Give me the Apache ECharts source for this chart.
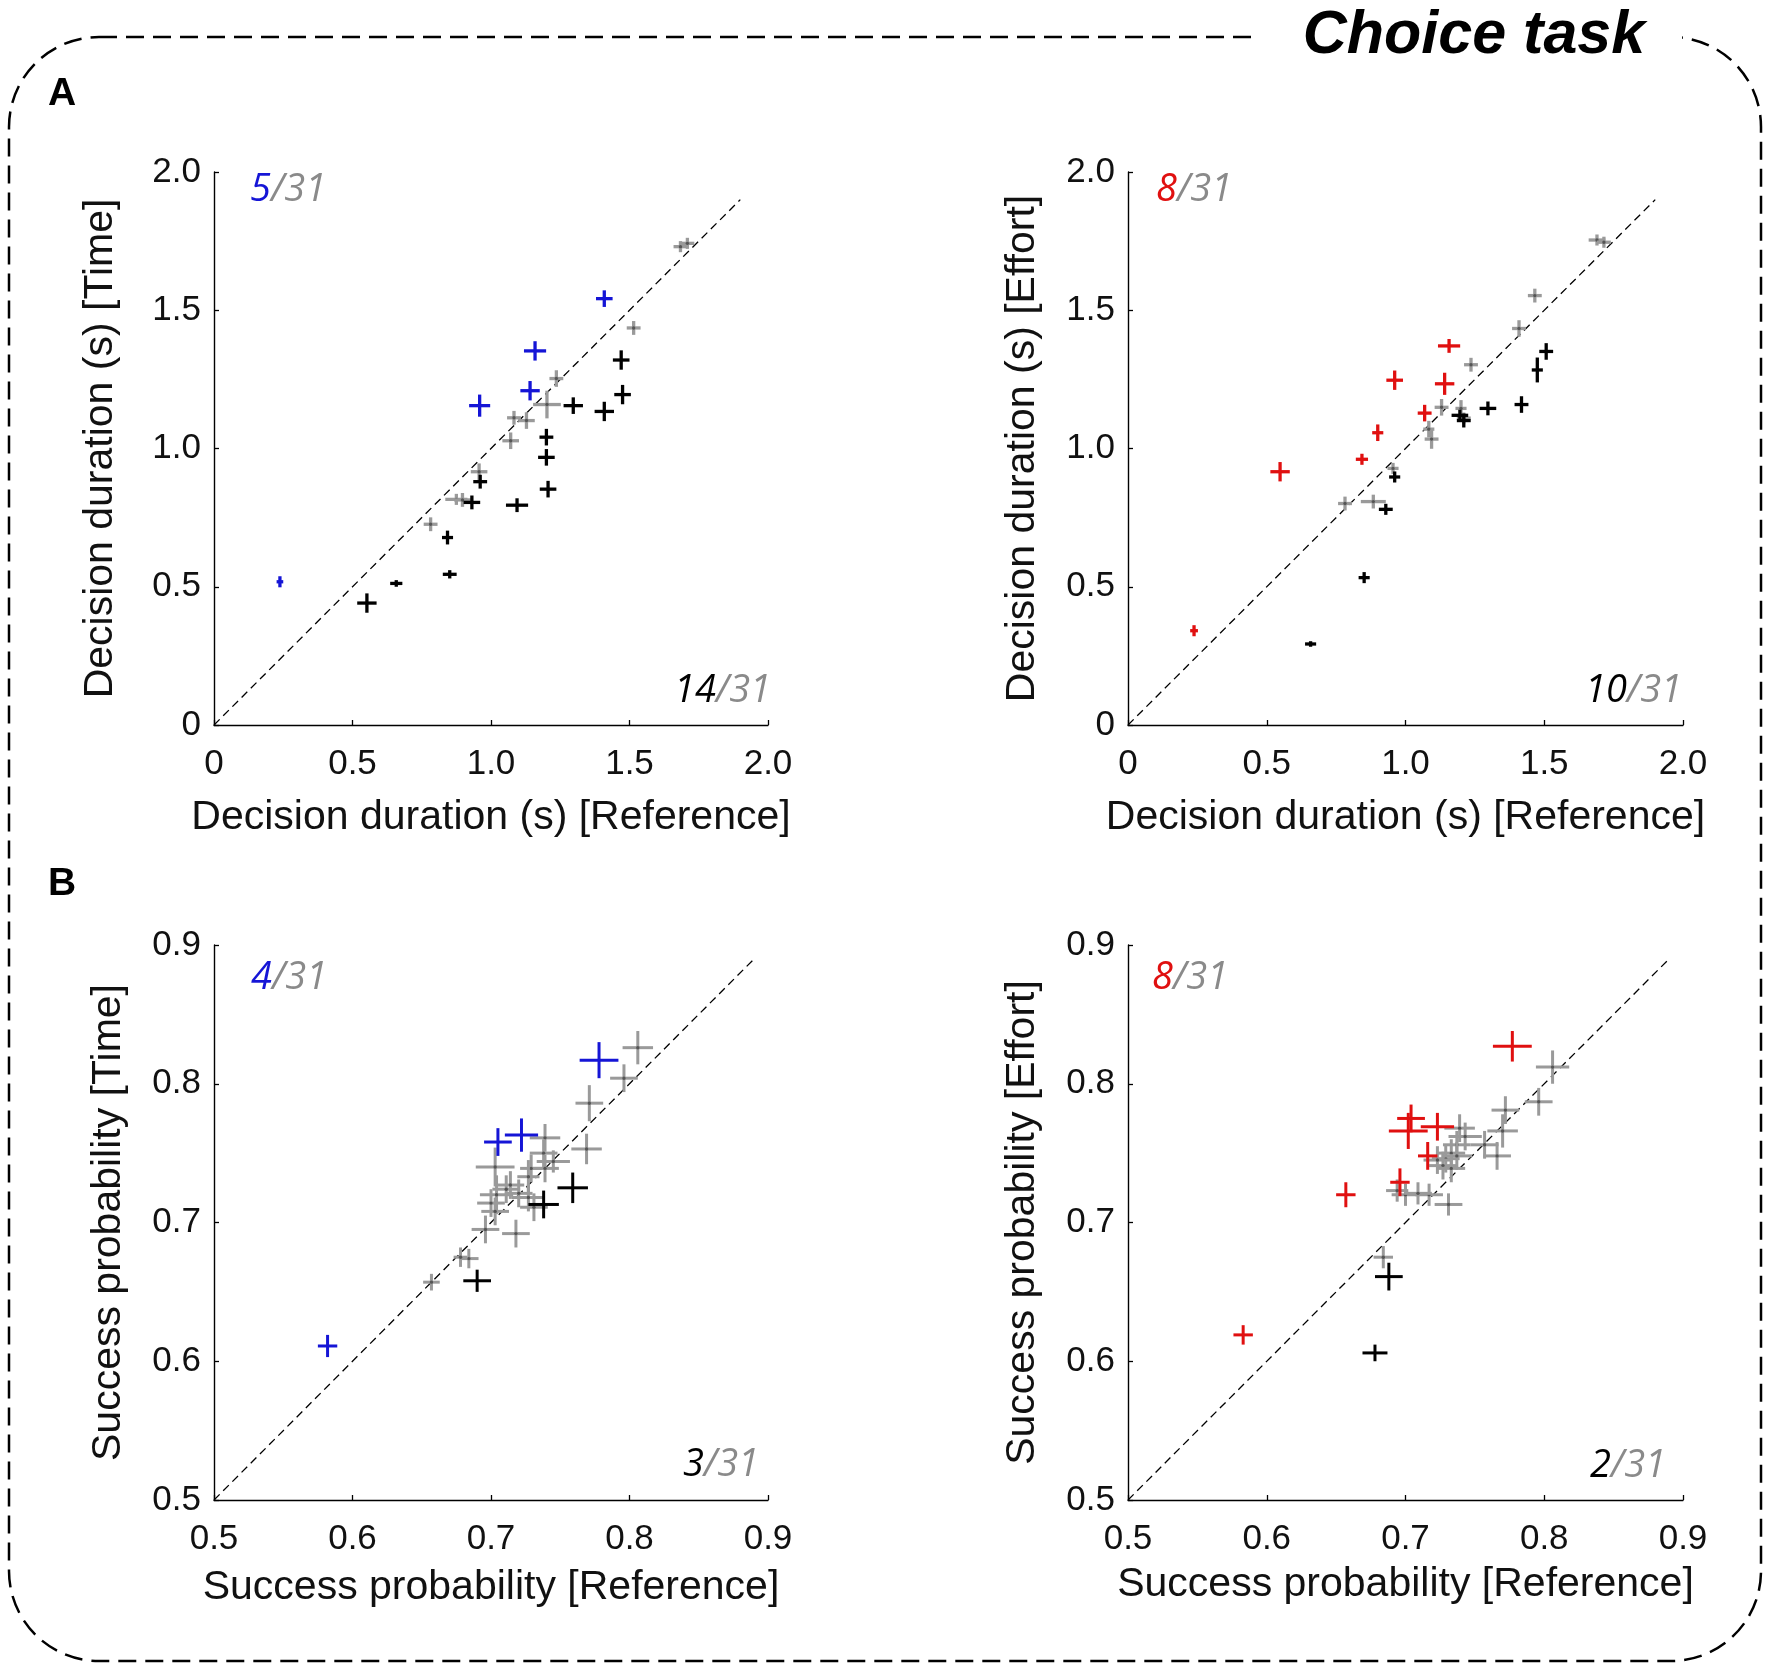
<!DOCTYPE html>
<html><head><meta charset="utf-8">
<script src="https://cdn.jsdelivr.net/npm/echarts@6/dist/echarts.min.js"></script>
<style>html,body{margin:0;padding:0;background:#fff}#c{width:1772px;height:1671px}</style>
</head><body><div id="c"></div>
<script>
// group codes: 0 = gray (n.s.), 1 = black (faster/lower), 2 = coloured (higher)
// ---- Panel A, left: decision duration, Time vs Reference
const a1X  = [0.238,0.959,1.159,1.141,1.409, 1.684,1.709,1.515,1.236,1.202,1.083,1.128,1.071,0.957,0.875,0.897,0.782, 1.297,1.409,1.470,1.475,1.200,1.200,1.206,1.094,0.961,0.931,0.843,0.851,0.658,0.552];
const a1Y  = [0.518,1.155,1.353,1.209,1.542, 1.730,1.742,1.436,1.253,1.159,1.111,1.101,1.028,0.916,0.816,0.814,0.726, 1.155,1.134,1.320,1.195,1.041,0.968,0.853,0.795,0.880,0.805,0.678,0.545,0.512,0.441];
const a1EX = [0.012,0.038,0.040,0.035,0.030, 0.025,0.025,0.025,0.025,0.050,0.025,0.030,0.030,0.030,0.040,0.030,0.025, 0.035,0.035,0.030,0.030,0.025,0.030,0.030,0.040,0.025,0.030,0.020,0.025,0.022,0.035];
const a1EY = [0.020,0.040,0.035,0.035,0.030, 0.020,0.020,0.025,0.030,0.050,0.025,0.030,0.030,0.030,0.020,0.025,0.025, 0.030,0.035,0.035,0.035,0.030,0.030,0.030,0.025,0.025,0.025,0.025,0.015,0.012,0.035];
const a1G  = [2,2,2,2,2, 0,0,0,0,0,0,0,0,0,0,0,0, 1,1,1,1,1,1,1,1,1,1,1,1,1,1];

// ---- Panel A, right: decision duration, Effort vs Reference
const a2X  = [0.238,0.548,0.843,0.900,0.961,1.069,1.141,1.157, 1.690,1.715,1.466,1.409,1.236,1.130,1.200,1.084,1.094,0.955,0.782,0.884,1.210, 1.507,1.475,1.418,1.297,1.196,1.210,0.961,0.929,0.851,0.658];
const a2Y  = [0.341,0.916,0.961,1.057,1.247,1.128,1.234,1.371, 1.754,1.746,1.553,1.434,1.303,1.149,1.145,1.070,1.034,0.928,0.801,0.808,1.110, 1.351,1.284,1.159,1.145,1.120,1.101,0.897,0.780,0.533,0.293];
const a2EX = [0.014,0.035,0.022,0.020,0.030,0.025,0.035,0.040, 0.030,0.025,0.025,0.025,0.025,0.025,0.020,0.020,0.025,0.020,0.025,0.045,0.025, 0.025,0.020,0.025,0.030,0.030,0.025,0.020,0.025,0.020,0.020];
const a2EY = [0.020,0.035,0.020,0.030,0.035,0.030,0.040,0.025, 0.020,0.020,0.025,0.030,0.025,0.030,0.030,0.030,0.035,0.020,0.025,0.025,0.020, 0.030,0.045,0.030,0.025,0.020,0.025,0.020,0.020,0.020,0.010];
const a2G  = [2,2,2,2,2,2,2,2, 0,0,0,0,0,0,0,0,0,0,0,0,0, 1,1,1,1,1,1,1,1,1,1];

// ---- Panel B, left: success probability, Time vs Reference
const b1X  = [0.582,0.705,0.722,0.778, 0.806,0.796,0.771,0.769,0.739,0.738,0.739,0.729,0.703,0.711,0.704,0.720,0.727,0.731,0.703,0.696,0.718,0.684,0.678,0.657,0.714,0.727,0.700,0.745, 0.759,0.738,0.690];
const b1Y  = [0.611,0.758,0.763,0.817, 0.826,0.804,0.786,0.753,0.761,0.750,0.739,0.739,0.740,0.724,0.720,0.721,0.718,0.711,0.708,0.695,0.692,0.674,0.675,0.657,0.727,0.733,0.714,0.744, 0.725,0.713,0.658];
const b1EX = [0.007,0.010,0.012,0.014, 0.011,0.010,0.010,0.011,0.011,0.010,0.010,0.008,0.014,0.010,0.012,0.010,0.012,0.010,0.010,0.010,0.010,0.007,0.005,0.006,0.010,0.008,0.010,0.012, 0.011,0.011,0.010];
const b1EY = [0.008,0.010,0.012,0.013, 0.012,0.010,0.013,0.011,0.010,0.010,0.010,0.010,0.014,0.010,0.014,0.010,0.010,0.010,0.010,0.010,0.010,0.007,0.007,0.006,0.010,0.012,0.010,0.008, 0.011,0.010,0.008];
const b1G  = [2,2,2,2, 0,0,0,0,0,0,0,0,0,0,0,0,0,0,0,0,0,0,0,0,0,0,0,0, 1,1,1];

// ---- Panel B, right: success probability, Effort vs Reference
const b2X  = [0.583,0.657,0.696,0.716,0.704,0.702,0.723,0.777, 0.806,0.796,0.772,0.770,0.766,0.757,0.739,0.737,0.733,0.729,0.727,0.737,0.684,0.694,0.700,0.717,0.731,0.709,0.743,0.733,0.723, 0.688,0.678];
const b2Y  = [0.619,0.720,0.729,0.748,0.775,0.766,0.769,0.827, 0.812,0.787,0.781,0.766,0.748,0.756,0.768,0.756,0.750,0.746,0.741,0.748,0.675,0.723,0.720,0.720,0.713,0.721,0.762,0.739,0.745, 0.661,0.606];
const b2EX = [0.007,0.007,0.007,0.007,0.010,0.014,0.012,0.014, 0.012,0.010,0.010,0.011,0.010,0.010,0.011,0.010,0.010,0.010,0.010,0.011,0.007,0.008,0.010,0.010,0.010,0.010,0.012,0.010,0.010, 0.010,0.009];
const b2EY = [0.007,0.009,0.010,0.010,0.010,0.013,0.010,0.011, 0.012,0.010,0.010,0.012,0.010,0.010,0.010,0.010,0.010,0.010,0.010,0.010,0.008,0.008,0.008,0.008,0.008,0.008,0.010,0.010,0.010, 0.010,0.006];
const b2G  = [2,2,2,2,2,2,2,2, 0,0,0,0,0,0,0,0,0,0,0,0,0,0,0,0,0,0,0,0,0, 1,1];

// axis tick values / labels
const durTicks = [0, 0.5, 1.0, 1.5, 2.0];
const probTicks = [0.5, 0.6, 0.7, 0.8, 0.9];
const diagA = [[0,0],[1.9,1.9]];
const diagB = [[0.5,0.5],[0.89,0.89]];

// count annotations
const countsTop = [['5','/31'],['8','/31'],['4','/31'],['8','/31']];
const countsBot = [['14','/31'],['10','/31'],['3','/31'],['2','/31']];

const BLUE = '#1515d6', RED = '#e01010', GRAY = '#9a9a9a', BLACK = '#000000';
const panelColor = [BLUE, RED, BLUE, RED];

function build(xs, ys, ex, ey, g) {
  const rows = xs.map((x, i) => [x, ys[i], ex[i], ey[i], g[i]]);
  rows.sort((a, b) => a[4] - b[4]); // gray, then black, then coloured on top
  return rows;
}

function makeRender(colored, lw) {
  return function (params, api) {
    const x = api.value(0), y = api.value(1), ex = api.value(2), ey = api.value(3), g = api.value(4);
    const col = g === 2 ? colored : (g === 1 ? BLACK : GRAY);
    const l = api.coord([x - ex, y]), r = api.coord([x + ex, y]);
    const t = api.coord([x, y + ey]), b = api.coord([x, y - ey]);
    const c = api.coord([x, y]);
    const children = [
      {type:'line', shape:{x1:l[0], y1:l[1], x2:r[0], y2:r[1]}, style:{stroke:col, lineWidth:lw}},
      {type:'line', shape:{x1:t[0], y1:t[1], x2:b[0], y2:b[1]}, style:{stroke:col, lineWidth:lw}}
    ];
    if (g === 0) children.push({type:'circle', shape:{cx:c[0], cy:c[1], r:1.7}, style:{fill:'#555'}});
    return {type:'group', children};
  };
}

const grids = [
  {left:214, top:172, width:554, height:553},
  {left:1128, top:172, width:555, height:553},
  {left:214, top:945, width:554, height:555},
  {left:1128, top:945, width:555, height:555}
];

const FONT = "'Liberation Sans', Arial, sans-serif";
function axisCommon() {
  return {
    axisLine:{show:true, onZero:false, lineStyle:{color:'#000', width:1.4}},
    axisTick:{show:true, inside:true, length:5, lineStyle:{color:'#000', width:1.3}},
    splitLine:{show:false},
    nameLocation:'middle',
    nameTextStyle:{fontFamily:FONT, fontSize:41, color:'#111'},
  };
}
const fmtA = v => (v === 0 ? '0' : v.toFixed(1));
const fmtB = v => v.toFixed(1);

const xNames = ['Decision duration (s) [Reference]','Decision duration (s) [Reference]','Success probability [Reference]','Success probability [Reference]'];
const yNames = ['Decision duration (s) [Time]','Decision duration (s) [Effort]','Success probability [Time]','Success probability [Effort]'];
const yGaps = [93, 85, 85, 85];
const xGaps = [72, 72, 67, 64];

const xAxis = [], yAxis = [];
for (let i = 0; i < 4; i++) {
  const isA = i < 2;
  const ticks = isA ? durTicks : probTicks;
  xAxis.push(Object.assign(axisCommon(), {
    type:'value', gridIndex:i, min:ticks[0], max:ticks[ticks.length-1], interval: isA ? 0.5 : 0.1,
    name:xNames[i], nameGap:xGaps[i],
    axisLabel:{formatter: isA ? fmtA : fmtB, fontFamily:FONT, fontSize:35, color:'#111', margin:22}
  }));
  yAxis.push(Object.assign(axisCommon(), {
    type:'value', gridIndex:i, min:ticks[0], max:ticks[ticks.length-1], interval: isA ? 0.5 : 0.1,
    name:yNames[i], nameGap:yGaps[i], nameRotate:90,
    axisLabel:{formatter: isA ? fmtA : fmtB, fontFamily:FONT, fontSize:35, color:'#111', margin:13}
  }));
}

const datasets = [
  build(a1X, a1Y, a1EX, a1EY, a1G),
  build(a2X, a2Y, a2EX, a2EY, a2G),
  build(b1X, b1Y, b1EX, b1EY, b1G),
  build(b2X, b2Y, b2EX, b2EY, b2G)
];

const series = [];
for (let i = 0; i < 4; i++) {
  series.push({
    type:'line', xAxisIndex:i, yAxisIndex:i, data: i < 2 ? diagA : diagB,
    symbol:'none', silent:true, z:1,
    lineStyle:{color:'#000', width:1.3, type:[8,5]}
  });
  series.push({
    type:'custom', xAxisIndex:i, yAxisIndex:i, data:datasets[i], z:2,
    renderItem: makeRender(panelColor[i], i < 2 ? 3.3 : 3),
    encode:{x:0, y:1}, silent:true
  });
}

const CFONT = "'Open Sans', 'Noto Sans', sans-serif";
function countText(x, y, parts, firstColor, align) {
  return {
    type:'text', x, y, z:10,
    style:{
      text:'{a|' + parts[0] + '}{b|' + parts[1] + '}',
      align, verticalAlign:'middle',
      rich:{
        a:{fill:firstColor, fontSize:38, fontStyle:'italic', fontFamily:CFONT},
        b:{fill:'#8a8a8a', fontSize:38, fontStyle:'italic', fontFamily:CFONT}
      }
    }
  };
}

const topPos = [[250,190],[1156,190],[251,978],[1152,978]];
const botPos = [[771,691],[1682,691],[759,1465],[1666,1466]];

const graphic = [
  {type:'rect', z:0, shape:{x:9, y:37, width:1752, height:1624, r:90},
   style:{fill:'none', stroke:'#000', lineWidth:2.5, lineDash:[18,9]}},
  {type:'rect', z:1, shape:{x:1260, y:0, width:422, height:80}, style:{fill:'#fff'}},
  {type:'text', z:2, x:1474, y:36,
   style:{text:'Choice task', align:'center', verticalAlign:'middle', fill:'#000',
          fontSize:61, fontWeight:'bold', fontStyle:'italic', fontFamily:FONT}},
  {type:'text', z:2, x:62, y:94,
   style:{text:'A', align:'center', verticalAlign:'middle', fill:'#000', fontSize:39, fontWeight:'bold', fontFamily:FONT}},
  {type:'text', z:2, x:62, y:884,
   style:{text:'B', align:'center', verticalAlign:'middle', fill:'#000', fontSize:39, fontWeight:'bold', fontFamily:FONT}}
];
for (let i = 0; i < 4; i++) {
  graphic.push(countText(topPos[i][0], topPos[i][1], countsTop[i], panelColor[i], 'left'));
  graphic.push(countText(botPos[i][0], botPos[i][1], countsBot[i], '#000', 'right'));
}

const chart = echarts.init(document.getElementById('c'), null, {renderer:'canvas'});
chart.setOption({
  backgroundColor:'#fff',
  animation:false,
  grid:grids,
  xAxis, yAxis, series, graphic
});
</script>
</body></html>
